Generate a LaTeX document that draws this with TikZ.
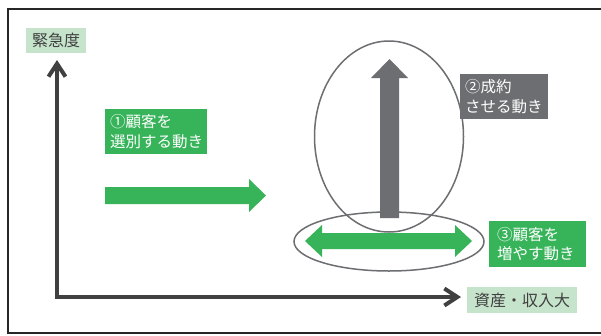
\documentclass[tikz,border=0pt]{standalone}
\usepackage{fontspec}
\newfontfamily\jp{Noto Sans CJK JP}
\usetikzlibrary{arrows.meta}
\definecolor{grn}{HTML}{37B45A}
\definecolor{lgrn}{HTML}{C6E4CC}
\definecolor{gry}{HTML}{6D6E71}
\definecolor{axc}{HTML}{404040}
\tikzset{
  box/.style={fill=grn, text=white, font=\jp\fontsize{15.5}{19.5}\selectfont, align=left, inner sep=0pt},
  gbox/.style={box, fill=gry},
  txt/.style={text=white, font=\jp\fontsize{15.5}{19.5}\selectfont, align=left, inner sep=0pt, anchor=west},
  lbl/.style={fill=lgrn, text=axc, font=\jp\fontsize{16}{18}\selectfont, inner sep=0pt},
  axis/.style={draw=axc, line width=4pt, line join=miter},
  ell/.style={draw=gry, line width=1.5pt},
}
\begin{document}
\begin{tikzpicture}[x=1pt,y=-1pt]
\useasboundingbox (0,0) rectangle (601,335);
\fill[white] (0,0) rectangle (601,335);
% frame
\draw[line width=1.5pt, draw=black!85, line cap=butt] (620,9) -- (8,9) -- (8,333) -- (620,333);
% ellipses
\coordinate (bigc) at (389,136.5);
\draw[ell] (bigc) ellipse [x radius=74.5, y radius=95.5];
\coordinate (smallc) at (389,241.5);
\draw[ell] (smallc) ellipse [x radius=95, y radius=29.5];
% axes
\coordinate (O) at (57,297);
\coordinate (ytip) at (57,60);
\coordinate (xtip) at (461,297);
\draw[axis, {Straight Barb[length=13pt,width=17pt]}-{Straight Barb[length=13pt,width=17pt]}] (ytip) -- (O) -- (xtip);
% axis labels
\node[lbl, minimum width=60, minimum height=25] (ylab) at (56,40.5) {緊急度};
\node[lbl, minimum width=110, minimum height=26] (xlab) at (522,300) {資産・収入大};
% green right arrow
\fill[grn] (105,187) -- (249,187) -- (249,179) -- (266,195.5) -- (249,212) -- (249,204) -- (105,204) -- cycle;
% gray up arrow
\fill[gry] (380,218) -- (380,78) -- (371,78) -- (389.5,59) -- (408,78) -- (399,78) -- (399,218) -- cycle;
% green double arrow
\fill[grn] (305,241) -- (322,225) -- (322,233) -- (455,233) -- (455,225) -- (472,241) -- (455,257) -- (455,249) -- (322,249) -- (322,257) -- cycle;
% text boxes
\node[box, minimum width=102, minimum height=45] (b1) at (156,131.5) {};
\node[txt] (t1) at (110,131.5) {①顧客を\\選別する動き};
\node[gbox, minimum width=88, minimum height=45] (b2) at (504,96.5) {};
\node[txt] (t2) at (465,96.5) {②成約\\させる動き};
\node[box, minimum width=97, minimum height=46] (b3) at (537.5,244) {};
\node[txt] (t3) at (497,244) {③顧客を\\増やす動き};
\end{tikzpicture}
\end{document}
